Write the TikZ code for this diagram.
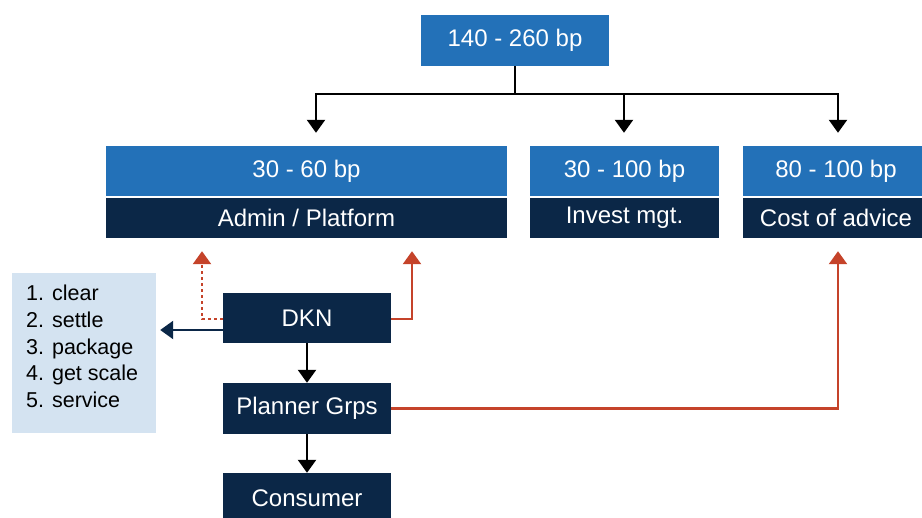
\documentclass[tikz,border=0pt]{standalone}
\usepackage{fontspec}
\setmainfont{Liberation Sans}
\usetikzlibrary{arrows.meta}
\definecolor{midblue}{HTML}{2371B8}
\definecolor{navy}{HTML}{0B2747}
\definecolor{paleblue}{HTML}{D4E3F1}
\definecolor{rust}{HTML}{C5432A}
\tikzset{
  boxbase/.style={inner sep=0pt, text=white, font=\fontsize{24}{28}\selectfont},
  bluebox/.style={boxbase, fill=midblue},
  navybox/.style={boxbase, fill=navy},
  arr/.style={line width=2.4pt, -{Triangle[width=18pt,length=13pt]}},
  blackarr/.style={arr, draw=black},
  redarr/.style={arr, draw=rust, rust},
  navyarr/.style={arr, draw=navy, navy},
}
\begin{document}
\begin{tikzpicture}[x=1pt,y=-1pt]
\useasboundingbox (0,0) rectangle (922,518);
% top
\node[bluebox, minimum width=188pt, minimum height=51pt] (top) at (515,40.5) {140 - 260 bp};
% second row
\node[bluebox, minimum width=401pt, minimum height=50pt] (ab) at (306.5,171) {30 - 60 bp};
\node[navybox, minimum width=401pt, minimum height=40pt] (ad) at (306.5,218) {Admin / Platform};
\node[bluebox, minimum width=189pt, minimum height=50pt] (ib) at (624.5,171) {30 - 100 bp};
\node[navybox, minimum width=189pt, minimum height=40pt] (id) at (624.5,218) {Invest mgt.};
\node[bluebox, minimum width=186pt, minimum height=50pt] (cb) at (836,171) {80 - 100 bp};
\node[navybox, minimum width=186pt, minimum height=40pt] (cd) at (836,218) {Cost of advice};
% chain
\node[navybox, minimum width=168pt, minimum height=50pt] (dkn) at (307,318) {DKN};
\node[navybox, minimum width=168pt, minimum height=51pt] (pg) at (307,408.5) {Planner Grps};
\node[navybox, minimum width=168pt, minimum height=50pt] (con) at (307,498) {Consumer};
% list
\node[fill=paleblue, minimum width=144pt, minimum height=160pt, inner sep=0pt] (list) at (84,353) {};
\node[anchor=north west, inner sep=0pt, align=left, font=\fontsize{21.5}{26.7}\selectfont, text=black] (listtext) at (26,285) {1. clear\\2. settle\\3. package\\4. get scale\\5. service};
% tree
\coordinate (j) at (515,94);
\coordinate (jl) at (316,94);
\coordinate (jm) at (624,94);
\coordinate (jr) at (838,94);
\draw[line width=2.4pt] (top.south) -- (j);
\draw[line width=2.4pt] ([xshift=-1.2pt]jl) -- ([xshift=1.2pt]jr);
\draw[blackarr, shorten >=13pt] (jl) -- (jl |- ab.north);
\draw[blackarr, shorten >=13pt] (jm) -- (jm |- ib.north);
\draw[blackarr, shorten >=13pt] (jr) -- (jr |- cb.north);
% chain arrows
\draw[blackarr] (dkn.south) -- (pg.north);
\draw[blackarr] (pg.south) -- (con.north);
% red
\coordinate (rdkn) at (412,319);
\coordinate (ldkn) at (202,319);
\draw[redarr, shorten >=13pt] (dkn.east |- rdkn) -| (rdkn |- ad.south);
\draw[redarr, shorten >=13pt] (pg.east) -| (jr |- cd.south);
\draw[redarr, dash pattern=on 3pt off 3pt, shorten >=13pt] (dkn.west |- ldkn) -| (ldkn |- ad.south);
% navy to list
\coordinate (nv) at (160,330);
\draw[navyarr, shorten >=4pt] (dkn.west |- nv) -- (list.east |- nv);
\end{tikzpicture}
\end{document}
